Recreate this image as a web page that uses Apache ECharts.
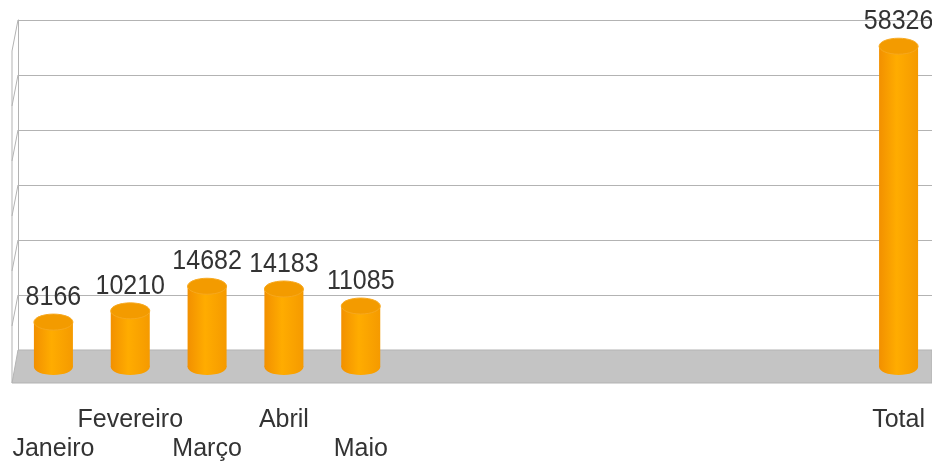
<!DOCTYPE html>
<html>
<head>
<meta charset="utf-8">
<title>Total</title>
<script src="https://cdn.jsdelivr.net/npm/echarts@6/dist/echarts.min.js"></script>
<style>
  html, body { margin: 0; padding: 0; background: #fff; }
  #chart { width: 932px; height: 461px; }
</style>
</head>
<body>
<div id="chart"></div>
<script>
// dados
var categories = ["Janeiro", "Fevereiro", "Março", "Abril", "Maio", "", "", "", "", "", "", "Total"];
var values = [8166, 10210, 14682, 14183, 11085, null, null, null, null, null, null, 58326];
var yTicks = [0, 10000, 20000, 30000, 40000, 50000, 60000];

var myChart = echarts.init(document.getElementById("chart"));

var font = "Liberation Sans, Arial, sans-serif";

function renderCylinder(params, api) {
  var v = api.value(1);
  if (v == null || isNaN(v)) return;
  var base = api.coord([api.value(0), 0]);
  var top = api.coord([api.value(0), v]);
  var w = 39, rx = w / 2, ry = 8;
  // corpo do cilindro
  var body = new echarts.graphic.LinearGradient(0, 0, 1, 0, [
    { offset: 0, color: "#f29000" },
    { offset: 0.45, color: "#ffac00" },
    { offset: 1, color: "#f59a00" },
  ]);
  return {
    type: "group",
    children: [
      { type: "ellipse", shape: { cx: base[0], cy: base[1], rx: rx, ry: ry }, style: { fill: body } },
      { type: "rect", shape: { x: base[0] - rx, y: top[1], width: w, height: base[1] - top[1] }, style: { fill: body } },
      { type: "ellipse", shape: { cx: top[0], cy: top[1], rx: rx, ry: ry }, style: { fill: "#f39b00", stroke: "#f7a81e", lineWidth: 1 } },
      {
        type: "text",
        x: top[0],
        y: top[1] - 11,
        scaleY: 1.08,
        style: {
          text: String(v),
          x: 0,
          y: 0,
          align: "center",
          verticalAlign: "bottom",
          fill: "#333",
          font: "25px " + font,
        },
      },
    ],
  };
}

var option = {
  animation: false,
  grid: [
    // parede do fundo
    { left: 18, right: 0, top: 20, bottom: 111, outerBoundsMode: "none" },
    // cilindros
    { left: 15, width: 922, top: 37, bottom: 94, outerBoundsMode: "none" },
  ],
  xAxis: [
    { gridIndex: 0, type: "category", data: categories, show: false },
    {
      gridIndex: 1,
      type: "category",
      data: categories,
      axisLine: { show: false },
      axisTick: { show: false },
      axisLabel: {
        interval: 0,
        margin: 39,
        color: "#333",
        fontSize: 25,
        fontFamily: font,
        lineHeight: 29,
        formatter: function (val, i) {
          return i % 2 === 0 ? "\n" + val : val;
        },
      },
    },
  ],
  yAxis: [
    {
      gridIndex: 0,
      type: "value",
      min: 0,
      max: 60000,
      interval: 10000,
      axisLabel: { show: false },
      axisTick: { show: false },
      axisLine: { show: true, lineStyle: { color: "#b3b3b3" } },
      splitLine: { show: true, lineStyle: { color: "#b3b3b3", width: 1 } },
    },
    { gridIndex: 1, type: "value", min: 0, max: 60000, interval: 10000, show: false },
  ],
  series: [
    {
      type: "custom",
      xAxisIndex: 1,
      yAxisIndex: 1,
      renderItem: renderCylinder,
      data: values.map(function (v, i) {
        return [i, v];
      }),
      z: 5,
    },
  ],
};

myChart.setOption(option);

// chão e parede lateral
var floorBack = myChart.convertToPixel({ yAxisIndex: 0 }, 0);
var depthX = -6, depthY = 33;
var wallX = 18;
var graphics = [
  {
    type: "polygon",
    z: 1,
    shape: { points: [[wallX, floorBack], [932, floorBack], [932, floorBack + depthY], [wallX + depthX, floorBack + depthY]] },
    style: { fill: "#c4c4c4", stroke: "#b3b3b3", lineWidth: 1 },
  },
];
var topY = myChart.convertToPixel({ yAxisIndex: 0 }, yTicks[yTicks.length - 1]);
graphics.push({
  type: "line",
  z: 1,
  shape: { x1: wallX + depthX, y1: topY + depthY - 2, x2: wallX + depthX, y2: floorBack + depthY },
  style: { stroke: "#b3b3b3", lineWidth: 1 },
});
yTicks.forEach(function (t) {
  var y = myChart.convertToPixel({ yAxisIndex: 0 }, t);
  if (t === 0) return;
  graphics.push({
    type: "line",
    z: 1,
    shape: { x1: wallX, y1: y, x2: wallX + depthX, y2: y + depthY - 2 },
    style: { stroke: "#b3b3b3", lineWidth: 1 },
  });
});
myChart.setOption({ graphic: graphics });
</script>
</body>
</html>
